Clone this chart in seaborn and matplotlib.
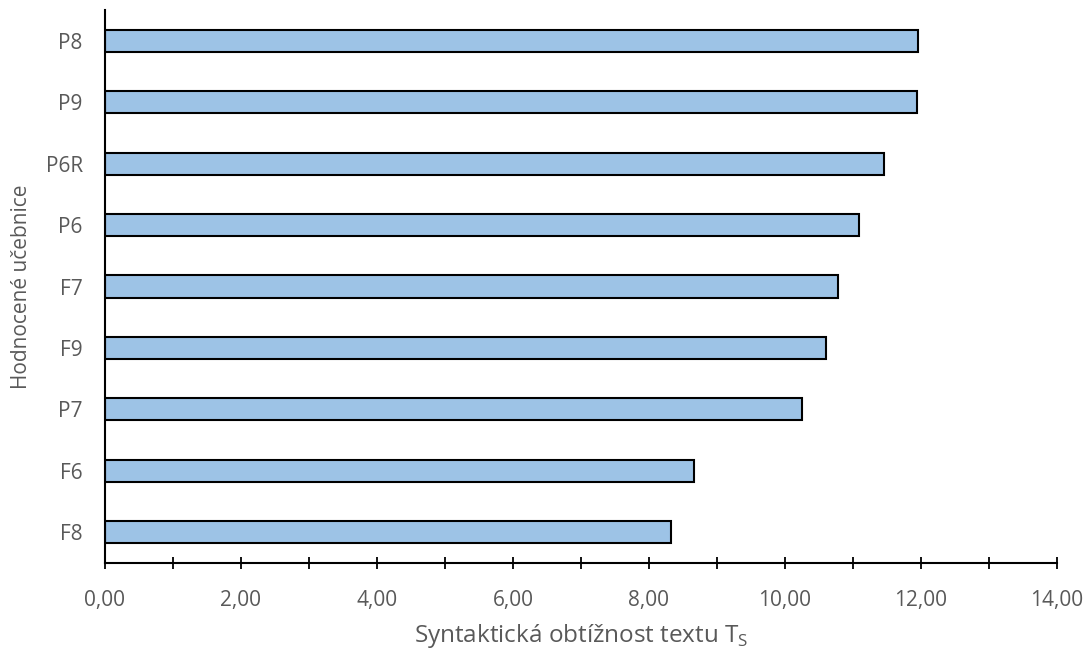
import matplotlib
matplotlib.use("Agg")
import matplotlib.pyplot as plt
import seaborn as sns
import pandas as pd
from matplotlib.ticker import FuncFormatter, MultipleLocator

categories = ["P8", "P9", "P6R", "P6", "F7", "F9", "P7", "F6", "F8"]
values = [11.95, 11.94, 11.45, 11.09, 10.78, 10.60, 10.25, 8.66, 8.32]

sns.set_theme(style="white")
plt.rcParams["font.family"] = ["Open Sans", "DejaVu Sans"]

df = pd.DataFrame({"ucebnice": categories, "ts": values})

fig = plt.figure(figsize=(10.89, 6.5), dpi=100)
ax = fig.add_axes([0.0964, 0.1338, 0.9706 - 0.0964, 0.9846 - 0.1338])

sns.barplot(data=df, x="ts", y="ucebnice", order=categories, orient="h",
            color="#9DC3E6", edgecolor="black", linewidth=1.5, width=0.36,
            saturation=1, ax=ax)

ax.set_xlim(0, 14)
ax.set_ylim(8.5, -0.5)
ax.xaxis.set_major_locator(MultipleLocator(1))
ax.xaxis.set_major_formatter(FuncFormatter(
    lambda v, p: (f"{v:.2f}".replace(".", ",") if int(round(v)) % 2 == 0 else "")))

for s in ["top", "right"]:
    ax.spines[s].set_visible(False)
for s in ["left", "bottom"]:
    ax.spines[s].set_color("black")
    ax.spines[s].set_linewidth(1.5)

ax.tick_params(axis="x", direction="inout", length=8.5, width=1.3, color="black",
               labelsize=15, labelcolor="#595959", pad=15, bottom=True)
ax.tick_params(axis="y", length=0, labelsize=15, labelcolor="#595959", pad=16)

ax.set_xlabel(r"Syntaktická obtížnost textu T$_\mathregular{S}$", fontsize=17.5,
              color="#595959", labelpad=8)
ax.set_ylabel("Hodnocené učebnice", fontsize=15, color="#595959", labelpad=10)

fig.savefig("out.png", dpi=100)
